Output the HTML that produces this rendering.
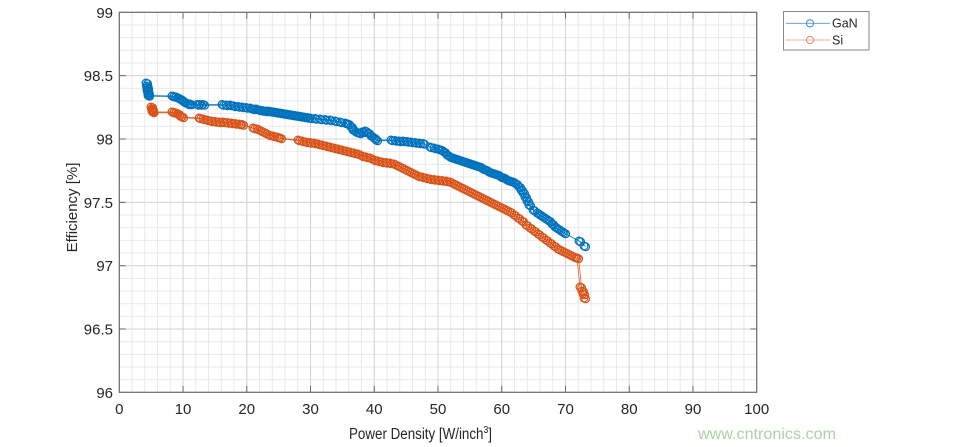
<!DOCTYPE html>
<html>
<head>
<meta charset="utf-8">
<style>
html,body{margin:0;padding:0;background:#fff;}
body{width:953px;height:447px;overflow:hidden;}
svg{display:block;}
text{font-family:"Liberation Sans",Arial,sans-serif;fill:#262626;}
</style>
</head>
<body>
<svg width="953" height="447" viewBox="0 0 953 447" xmlns="http://www.w3.org/2000/svg">
<defs>
  <pattern id="minor" patternUnits="userSpaceOnUse" x="118.8" y="11.8" width="12.748" height="12.67">
    <path d="M0.5 0 V12.67 M0 0.5 H12.748" stroke="#e8e8e8" stroke-width="1" fill="none"/>
  </pattern>
  <pattern id="major" patternUnits="userSpaceOnUse" x="118.8" y="11.8" width="63.74" height="63.35">
    <path d="M0.5 0 V63.35 M0 0.5 H63.74" stroke="#d4d4d4" stroke-width="1" fill="none"/>
  </pattern>
  <marker id="mb" markerWidth="10" markerHeight="10" refX="5" refY="5" markerUnits="userSpaceOnUse" overflow="visible">
    <circle cx="5" cy="5" r="3.9" fill="none" stroke="#0072BD" stroke-width="1.2"/>
  </marker>
  <marker id="mo" markerWidth="10" markerHeight="10" refX="5" refY="5" markerUnits="userSpaceOnUse" overflow="visible">
    <circle cx="5" cy="5" r="3.9" fill="none" stroke="#D95319" stroke-width="1.2"/>
  </marker>
  <path id="gan" fill="none" stroke="#0072BD" stroke-width="0.7" marker-start="url(#mb)" marker-mid="url(#mb)" marker-end="url(#mb)"
d="M146 83 L146.5 86 L147 88 L147 90 L147.5 92 L148 94 L148 95.5
L172 96 L174 96.5 L176 97 L178 98 L180 99 L182 100.5 L184 102 L186 103 L188 104 L190 104
L197 104.5 L200 104.5 L203 104.5
L222 104.5 L226 105 L230 105 L234 106 L238 106.5 L242 107 L246 107.5 L250 108 L253 109 L256 109 L259 110 L262 110.5 L265 111 L268 111 L271 111.5 L274 112 L277 112.5 L280 113 L283 113.5 L286 114 L289 114.5 L292 115 L295 115.5 L298 116 L301 116.5 L304 117 L307 117.5 L310 118
L315 118.5 L320 119 L325 119.5 L330 120 L335 121 L340 122 L345 123 L348 124 L351 127 L353 130 L356 132 L359 133 L362 132 L365 131 L368 133 L371 136 L374 138 L376 140
L391 140 L395 140.5 L399 141 L403 141 L407 141.5 L411 142 L415 142.5 L419 143 L423 143.5
L430 147 L434 148 L438 149 L441 150 L444 152 L447 155 L450 157 L453 158 L456 159 L459 160 L462 161 L465 162 L468 163 L471 164 L474 165 L477 166 L480 167 L483 169 L486 170 L489 172 L492 173 L495 174 L498 175 L501 177 L504 178 L507 180 L510 181 L513 182 L516 184 L519 187 L521 190 L523 193 L525 197 L527 201 L529 205
L533 210 L537 213 L540 215 L543 217 L546 219 L549 221 L552 224 L555 227 L558 229 L561 231 L564 233
L579 241 L584 246"/>
  <path id="si" fill="none" stroke="#D95319" stroke-width="0.7" marker-start="url(#mo)" marker-mid="url(#mo)" marker-end="url(#mo)"
d="M151 107 L151.5 109 L152 110 L152 111 L152.5 112
L172 112 L174 112.5 L176 113 L178 114 L180 116 L182 117
L199 118 L203 119 L207 120 L211 121 L215 121.5 L219 122 L223 122 L227 122.5 L231 123 L235 123.5 L239 124 L242 124.5
L253 128 L257 129 L261 131 L265 133 L269 135 L273 136 L277 137 L280 138
L298 140 L302 141 L306 142 L310 142.5 L314 143 L318 144 L322 145 L326 146 L330 147 L334 148 L338 149 L342 150 L346 151 L350 152 L354 153 L358 154 L362 156 L366 157 L370 158 L374 160 L378 161 L382 162 L386 162.5 L390 163 L394 164 L398 166 L402 168 L406 170 L410 172 L414 174 L418 176 L422 177 L426 178 L430 179 L434 179.5 L438 180 L442 180.5 L446 181 L450 182 L454 184 L458 186 L462 188 L466 190 L470 192 L474 194 L478 196 L482 198 L486 200 L490 202 L494 204 L498 206 L502 208 L506 210 L510 212 L514 215 L518 218 L522 221 L526 225 L530 228 L534 231 L538 234 L542 237 L546 240 L550 243 L554 246 L558 249 L562 251 L566 253 L570 255 L574 257 L577 258
L580 287 L582 291 L583 294 L584 298"/>
</defs>

<!-- plot background and grids -->
<rect x="119.3" y="12.3" width="637.4" height="380" fill="#fff"/>
<rect x="119.3" y="12.3" width="637.4" height="380" fill="url(#minor)"/>
<rect x="119.3" y="12.3" width="637.4" height="380" fill="url(#major)"/>

<!-- axes box -->
<rect x="119.3" y="12.3" width="637.4" height="380" fill="none" stroke="#6a6a6a" stroke-width="1.2"/>

<!-- ticks -->
<g stroke="#6a6a6a" stroke-width="1">
  <path d="M183.04 392.3 v-6.4 M246.78 392.3 v-6.4 M310.52 392.3 v-6.4 M374.26 392.3 v-6.4 M438 392.3 v-6.4 M501.74 392.3 v-6.4 M565.48 392.3 v-6.4 M629.22 392.3 v-6.4 M692.96 392.3 v-6.4"/>
  <path d="M183.04 12.3 v6.4 M246.78 12.3 v6.4 M310.52 12.3 v6.4 M374.26 12.3 v6.4 M438 12.3 v6.4 M501.74 12.3 v6.4 M565.48 12.3 v6.4 M629.22 12.3 v6.4 M692.96 12.3 v6.4"/>
  <path d="M119.3 75.65 h6.4 M119.3 139 h6.4 M119.3 202.35 h6.4 M119.3 265.7 h6.4 M119.3 329.05 h6.4"/>
  <path d="M756.7 75.65 h-6.4 M756.7 139 h-6.4 M756.7 202.35 h-6.4 M756.7 265.7 h-6.4 M756.7 329.05 h-6.4"/>
</g>

<!-- y tick labels -->
<g font-size="15" text-anchor="end">
  <text x="113" y="17.8">99</text>
  <text x="113" y="81.1">98.5</text>
  <text x="113" y="144.5">98</text>
  <text x="113" y="207.8">97.5</text>
  <text x="113" y="271.2">97</text>
  <text x="113" y="334.5">96.5</text>
  <text x="113" y="397.8">96</text>
</g>

<!-- x tick labels -->
<g font-size="15" text-anchor="middle">
  <text x="119.3" y="414">0</text>
  <text x="183.04" y="414">10</text>
  <text x="246.78" y="414">20</text>
  <text x="310.52" y="414">30</text>
  <text x="374.26" y="414">40</text>
  <text x="438" y="414">50</text>
  <text x="501.74" y="414">60</text>
  <text x="565.48" y="414">70</text>
  <text x="629.22" y="414">80</text>
  <text x="692.96" y="414">90</text>
  <text x="756.7" y="414">100</text>
</g>

<!-- axis titles -->
<text x="349" y="439" font-size="15.5" textLength="143" lengthAdjust="spacingAndGlyphs">Power Density [W/inch<tspan font-size="10" dy="-6">3</tspan><tspan dy="6">]</tspan></text>
<text transform="translate(77,207.5) rotate(-90)" font-size="15" text-anchor="middle">Efficiency [%]</text>

<!-- series (doubled with slight offset to mimic dense overlapping markers) -->
<use href="#gan"/>
<use href="#gan" transform="translate(1.6,0.8)"/>
<use href="#si"/>
<use href="#si" transform="translate(1.6,0.8)"/>

<!-- legend -->
<rect x="783.5" y="11.5" width="85.5" height="38.5" fill="#fff" stroke="#8a8a8a" stroke-width="1"/>
<line x1="786" y1="23.3" x2="830" y2="23.3" stroke="#4a9ad6" stroke-width="0.8"/>
<circle cx="810" cy="23.3" r="3.6" fill="none" stroke="#3d8fd0" stroke-width="1"/>
<line x1="786" y1="40" x2="830" y2="40" stroke="#e69a7a" stroke-width="0.8"/>
<circle cx="810" cy="40" r="3.6" fill="none" stroke="#e08a66" stroke-width="1"/>
<text x="832" y="27.5" font-size="12.5">GaN</text>
<text x="832" y="44.5" font-size="12.5">Si</text>

<!-- watermark -->
<text x="698" y="439" font-size="16" style="fill:#aad4a4" textLength="138" lengthAdjust="spacingAndGlyphs">www.cntronics.com</text>
</svg>
</body>
</html>
